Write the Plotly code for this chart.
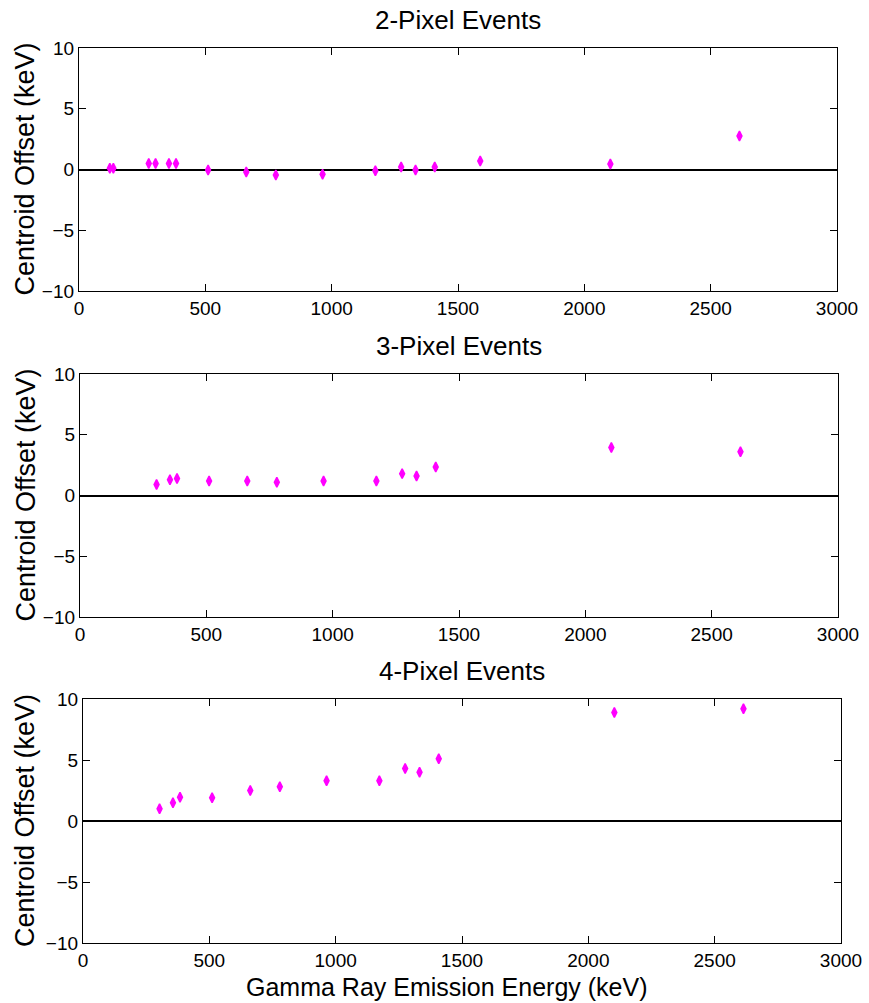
import plotly.graph_objects as go

# Gamma line energies (keV) used in each event class
energy_2px = [122, 136, 276, 303, 356, 384, 511, 662, 779, 964, 1173, 1275, 1332, 1408, 1588, 2103, 2614]
offset_2px = [0.1, 0.1, 0.5, 0.5, 0.5, 0.5, -0.05, -0.2, -0.45, -0.4, -0.1, 0.2, -0.05, 0.2, 0.7, 0.45, 2.75]

energy_3px = [303, 356, 384, 511, 662, 779, 964, 1173, 1275, 1332, 1408, 2103, 2614]
offset_3px = [0.9, 1.3, 1.4, 1.2, 1.2, 1.1, 1.2, 1.2, 1.8, 1.6, 2.35, 3.95, 3.6]

energy_4px = [303, 356, 384, 511, 662, 779, 964, 1173, 1275, 1332, 1408, 2103, 2614]
offset_4px = [1.0, 1.5, 1.95, 1.9, 2.5, 2.8, 3.3, 3.3, 4.3, 4.0, 5.1, 8.9, 9.2]

panel_titles = ["2-Pixel Events", "3-Pixel Events", "4-Pixel Events"]
x_ticks = [0, 500, 1000, 1500, 2000, 2500, 3000]
y_ticks = [-10, -5, 0, 5, 10]

W, H = 869, 1003
FONT = "Liberation Sans, Arial, sans-serif"

# panel boxes in pixels: (left, right, top, bottom)
boxes = [(79, 837, 48, 291), (80, 838, 374, 617), (83, 841, 699, 943)]

fig = go.Figure()
series = [(energy_2px, offset_2px), (energy_3px, offset_3px), (energy_4px, offset_4px)]

for i, ((xs, ys), (l, r, t, b), title) in enumerate(zip(series, boxes, panel_titles)):
    n = "" if i == 0 else str(i + 1)
    fig.add_trace(go.Scatter(
        x=xs, y=ys, mode="markers",
        marker=dict(symbol="diamond-tall", size=7, color="#ff00ff",
                    line=dict(width=1.5, color="#ff00ff")),
        xaxis="x" + n, yaxis="y" + n, showlegend=False,
    ))
    common = dict(showline=True, linecolor="black", linewidth=1.3, mirror="ticks",
                  ticks="inside", ticklen=7, tickwidth=1.3, tickcolor="black",
                  showgrid=False, automargin=False,
                  tickfont=dict(family=FONT, size=19, color="black"))
    fig.update_layout(**{
        "xaxis" + n: dict(domain=[l / W, r / W], anchor="y" + n, range=[0, 3000],
                          tickvals=x_ticks, zeroline=False, **common),
        "yaxis" + n: dict(domain=[1 - b / H, 1 - t / H], anchor="x" + n, range=[-10, 10],
                          tickvals=y_ticks, zeroline=True, zerolinecolor="black",
                          zerolinewidth=1.8, **common),
    })
    fig.add_annotation(text=title, xref="paper", yref="paper",
                       x=(l + r) / 2 / W, y=1 - (t - 28) / H,
                       xanchor="center", yanchor="middle", showarrow=False,
                       font=dict(family=FONT, size=26, color="black"))
    fig.add_annotation(text="Centroid Offset (keV)", xref="paper", yref="paper",
                       x=25 / W, y=1 - (t + b) / 2 / H, textangle=-90,
                       xanchor="center", yanchor="middle", showarrow=False,
                       font=dict(family=FONT, size=27, color="black"))

fig.add_annotation(text="Gamma Ray Emission Energy (keV)", xref="paper", yref="paper",
                   x=447 / W, y=1 - 987 / H,
                   xanchor="center", yanchor="middle", showarrow=False,
                   font=dict(family=FONT, size=25, color="black"))

fig.update_layout(template="none", width=W, height=H,
                  margin=dict(l=0, r=0, t=0, b=0, pad=0, autoexpand=False),
                  paper_bgcolor="white", plot_bgcolor="white")

fig.write_html("out.html")
